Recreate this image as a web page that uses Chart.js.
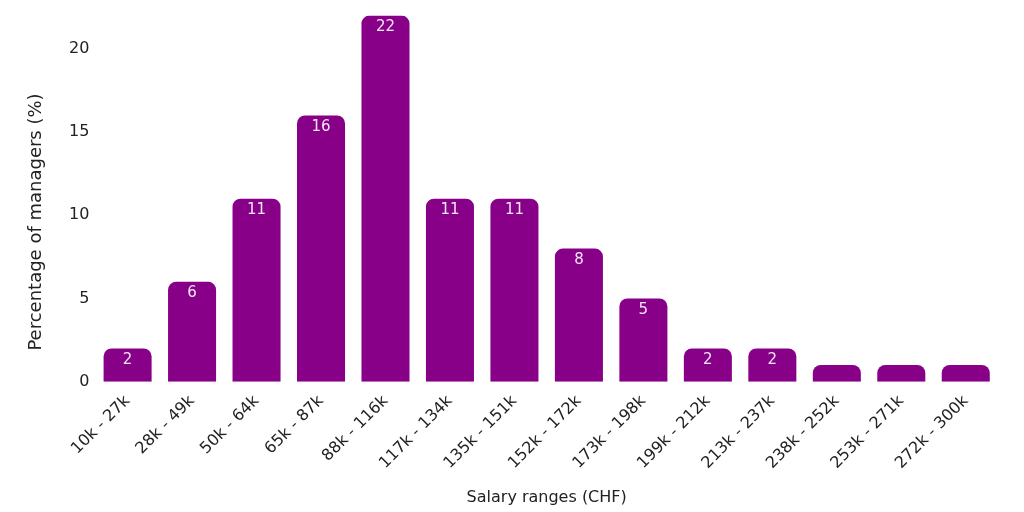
<!DOCTYPE html>
<html>
<head>
<meta charset="utf-8">
<script src="https://cdn.jsdelivr.net/npm/chart.js@4"></script>
<style>
  html, body { margin: 0; padding: 0; background: #fff; }
  #wrap { width: 1024px; height: 512px; }
</style>
</head>
<body>
<div id="wrap"><canvas id="chart1"></canvas></div>
<script>
var categories = ["10k - 27k", "28k - 49k", "50k - 64k", "65k - 87k", "88k - 116k", "117k - 134k",
  "135k - 151k", "152k - 172k", "173k - 198k", "199k - 212k", "213k - 237k", "238k - 252k",
  "253k - 271k", "272k - 300k"];
var shares = [2, 6, 11, 16, 22, 11, 11, 8, 5, 2, 2, 1, 1, 1];
var yTicks = [0, 5, 10, 15, 20];

var fontFamily = "'DejaVu Sans', sans-serif";

// バーの上部に値を描く + 縦軸タイトル
var valueLabels = {
  id: 'valueLabels',
  afterDatasetsDraw: function(chart) {
    var ctx = chart.ctx,
      meta = chart.getDatasetMeta(0);
    ctx.save();
    ctx.fillStyle = '#f3e6f3';
    ctx.font = '15px ' + fontFamily;
    ctx.textAlign = 'center';
    ctx.textBaseline = 'top';
    meta.data.forEach(function(bar, i) {
      var v = shares[i];
      if (v < 2) return; // 小さいバーはラベルなし
      ctx.fillText(String(v), bar.x, bar.y + 4);
    });
    ctx.restore();

    ctx.save();
    ctx.fillStyle = '#222';
    ctx.font = '18px ' + fontFamily;
    ctx.textAlign = 'center';
    ctx.textBaseline = 'middle';
    ctx.translate(36, 222);
    ctx.rotate(-Math.PI / 2);
    ctx.fillText('Percentage of managers (%)', 0, 0);
    ctx.restore();
  }
};

var ctx = document.getElementById('chart1').getContext('2d');
var chart = new Chart(ctx, {
  type: 'bar',
  data: {
    labels: categories,
    datasets: [{
      data: shares,
      backgroundColor: '#880088',
      borderRadius: { topLeft: 8, topRight: 8, bottomLeft: 0, bottomRight: 0 },
      borderSkipped: false,
      barPercentage: 0.745,
      categoryPercentage: 1.0
    }]
  },
  options: {
    responsive: true,
    maintainAspectRatio: false,
    animation: false,
    layout: { padding: { left: 63, right: 26, top: 4, bottom: 1 } },
    plugins: {
      legend: { display: false },
      tooltip: { enabled: false }
    },
    scales: {
      x: {
        grid: { display: false, drawTicks: false },
        border: { display: false },
        ticks: {
          color: '#222',
          font: { family: fontFamily, size: 16 },
          maxRotation: 45,
          minRotation: 45,
          padding: 10
        },
        title: {
          display: true,
          text: 'Salary ranges (CHF)',
          color: '#222',
          font: { family: fontFamily, size: 16 },
          padding: { top: 5 }
        }
      },
      y: {
        min: 0,
        max: 22,
        grid: { display: false, drawTicks: false },
        border: { display: false },
        afterBuildTicks: function(axis) {
          axis.ticks = yTicks.map(function(v) { return { value: v }; });
        },
        ticks: {
          color: '#222',
          font: { family: fontFamily, size: 16 },
          padding: 6
        }
      }
    }
  },
  plugins: [valueLabels]
});
</script>
</body>
</html>
